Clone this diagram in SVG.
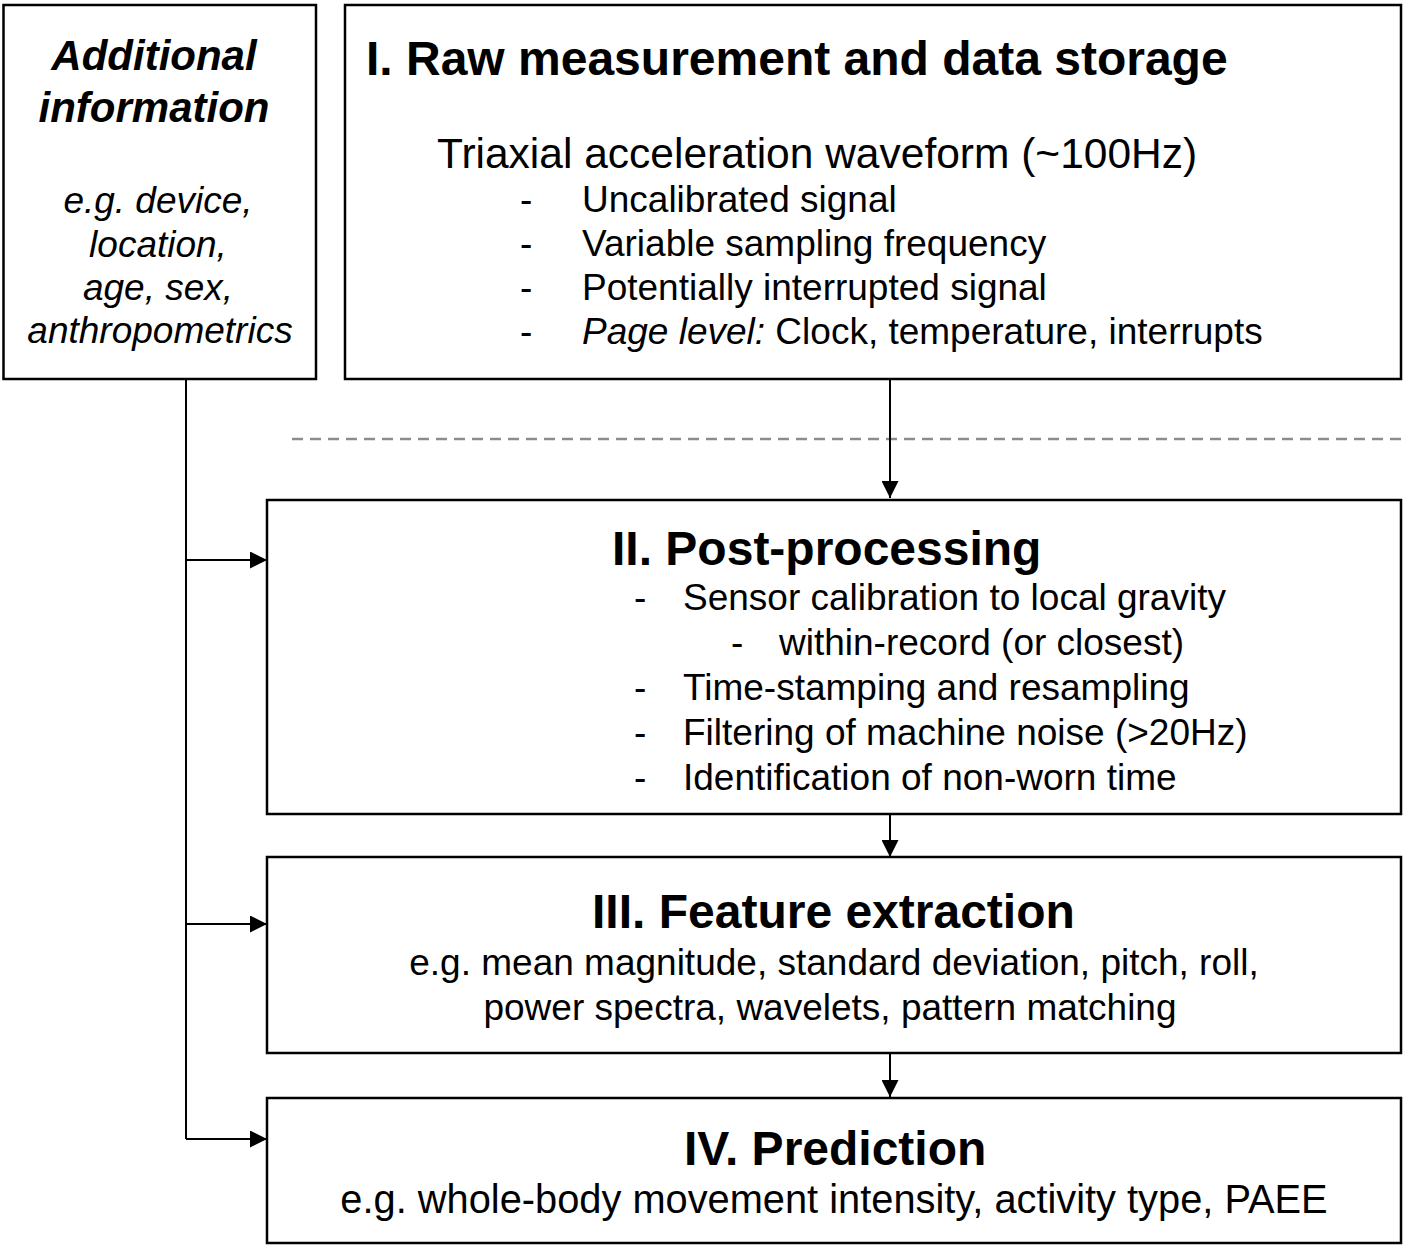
<svg xmlns="http://www.w3.org/2000/svg" width="1403" height="1247" viewBox="0 0 1403 1247">
<style>
.box{fill:#fff;stroke:#000;stroke-width:2.5}
.t{font-family:"Liberation Sans",Arial,sans-serif;fill:#000}
.h{font-size:48px;font-weight:bold}
.b{font-size:37px}
.b2{font-size:42.5px}
.b3{font-size:39.8px}
.ai{font-size:42px;font-weight:bold;font-style:italic}
.it{font-style:italic}
.con{stroke:#000;stroke-width:2;fill:none}
.dash{stroke:#8c8c8c;stroke-width:2.5;stroke-dasharray:11 7;fill:none}
</style>
<defs>
<marker id="ah" markerUnits="userSpaceOnUse" markerWidth="17" markerHeight="17" refX="17" refY="8.5" orient="auto">
<path d="M0,0 L17,8.5 L0,17 z" fill="#000"/>
</marker>
</defs>
<rect width="1403" height="1247" fill="#fff"/>
<g id="connectors">
<line class="dash" x1="292" y1="439" x2="1403" y2="439"/>
<line class="con" x1="890" y1="380" x2="890" y2="498" marker-end="url(#ah)"/>
<line class="con" x1="890" y1="815" x2="890" y2="857" marker-end="url(#ah)"/>
<line class="con" x1="890" y1="1054" x2="890" y2="1097" marker-end="url(#ah)"/>
<polyline class="con" points="186,380 186,1139"/>
<line class="con" x1="186" y1="560" x2="267" y2="560" marker-end="url(#ah)"/>
<line class="con" x1="186" y1="924" x2="267" y2="924" marker-end="url(#ah)"/>
<line class="con" x1="186" y1="1139" x2="267" y2="1139" marker-end="url(#ah)"/>
</g>
<g id="additional">
<rect class="box" x="3.5" y="5" width="312.5" height="374"/>
<text class="t ai" x="154" y="70" text-anchor="middle">Additional</text>
<text class="t ai" x="154" y="122" text-anchor="middle">information</text>
<text class="t b it" x="158" y="213" text-anchor="middle">e.g. device,</text>
<text class="t b it" x="158" y="257" text-anchor="middle">location,</text>
<text class="t b it" x="158" y="300" text-anchor="middle">age, sex,</text>
<text class="t b it" x="160" y="343" text-anchor="middle">anthropometrics</text>
</g>
<g id="raw">
<rect class="box" x="345" y="5" width="1056" height="374"/>
<text class="t h" x="366" y="75">I. Raw measurement and data storage</text>
<text class="t b2" x="437" y="168">Triaxial acceleration waveform (~100Hz)</text>
<text class="t b" x="520" y="212">-</text>
<text class="t b" x="582" y="212">Uncalibrated signal</text>
<text class="t b" x="520" y="256">-</text>
<text class="t b" x="582" y="256">Variable sampling frequency</text>
<text class="t b" x="520" y="300">-</text>
<text class="t b" x="582" y="300">Potentially interrupted signal</text>
<text class="t b" x="520" y="344">-</text>
<text class="t b" x="582" y="344"><tspan class="it">Page level:</tspan> Clock, temperature, interrupts</text>
</g>
<g id="post">
<rect class="box" x="267" y="500" width="1134" height="314"/>
<text class="t h" x="612" y="565">II. Post-processing</text>
<text class="t b" x="634" y="610">-</text>
<text class="t b" x="683" y="610">Sensor calibration to local gravity</text>
<text class="t b" x="731" y="655">-</text>
<text class="t b" x="779" y="655">within-record (or closest)</text>
<text class="t b" x="634" y="700">-</text>
<text class="t b" x="683" y="700">Time-stamping and resampling</text>
<text class="t b" x="634" y="745">-</text>
<text class="t b" x="683" y="745">Filtering of machine noise (&gt;20Hz)</text>
<text class="t b" x="634" y="790">-</text>
<text class="t b" x="683" y="790">Identification of non-worn time</text>
</g>
<g id="feature">
<rect class="box" x="267" y="857" width="1134" height="196"/>
<text class="t h" x="592" y="928">III. Feature extraction</text>
<text class="t b" x="834" y="975" text-anchor="middle">e.g. mean magnitude, standard deviation, pitch, roll,</text>
<text class="t b" x="830" y="1020" text-anchor="middle">power spectra, wavelets, pattern matching</text>
</g>
<g id="prediction">
<rect class="box" x="267" y="1098" width="1134" height="145"/>
<text class="t h" x="684" y="1165">IV. Prediction</text>
<text class="t b3" x="834" y="1213" text-anchor="middle">e.g. whole-body movement intensity, activity type, PAEE</text>
</g>
</svg>
